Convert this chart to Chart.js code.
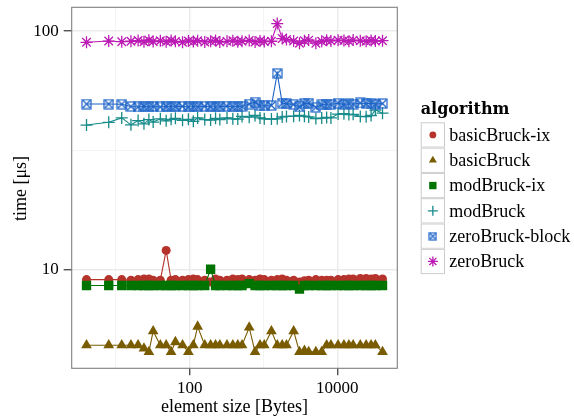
<!DOCTYPE html>
<html>
<head>
<meta charset="utf-8">
<script src="https://cdn.jsdelivr.net/npm/chart.js@4"></script>
<style>
  html, body { margin: 0; padding: 0; background: #fff; }
  #wrap { width: 574px; height: 416px; }
</style>
</head>
<body>
<div id="wrap"><canvas id="chart" width="574" height="416"></canvas></div>
<script>
// datos
const sizes = [4, 8, 12, 16, 20, 24, 28, 32, 40, 48, 56, 64, 80, 96, 112, 128, 160, 192, 224, 256,
  320, 384, 448, 512, 640, 768, 896, 1024, 1280, 1536, 1792, 2048, 2560, 3072, 3584, 4096,
  5120, 6144, 7168, 8192, 10240, 12288, 14336, 16384, 20480, 24576, 28672, 32768, 40960];

const basicBruckIx = [9.05, 9.05, 9.05, 9.0, 9.05, 9.1, 9.1, 9.0, 9.0, 12.0, 9.0, 9.05, 9.0, 9.05, 9.1,
  9.05, 9.0, 8.85, 9.1, 9.0, 9.0, 9.1, 9.05, 9.1, 9.05, 9.0, 9.1, 9.05, 9.0, 9.05, 9.1, 9.0, 9.0,
  8.85, 8.95, 9.0, 9.05, 9.0, 9.0, 9.0, 9.05, 9.05, 9.1, 9.1, 9.15, 9.15, 9.1, 9.15, 9.1];

const basicBruck = [4.8, 4.8, 4.8, 4.8, 4.8, 4.65, 4.5, 5.5, 4.8, 4.8, 4.5, 4.95, 4.8, 4.5, 4.8, 5.75,
  4.8, 4.8, 4.8, 4.8, 4.8, 4.8, 4.8, 4.8, 5.7, 4.5, 4.8, 4.8, 5.5, 4.8, 4.8, 4.8, 5.5, 4.5, 4.55,
  4.5, 4.5, 4.5, 4.8, 4.8, 4.8, 4.8, 4.8, 4.8, 4.8, 4.8, 4.8, 4.8, 4.5];

const modBruckIx = [8.55, 8.55, 8.55, 8.55, 8.55, 8.55, 8.55, 8.55, 8.55, 8.55, 8.55, 8.55, 8.55, 8.55,
  8.55, 8.55, 8.55, 10.0, 8.55, 8.55, 8.55, 8.55, 8.55, 8.55, 8.7, 8.55, 8.55, 8.55, 8.55, 8.55,
  8.55, 8.55, 8.55, 8.25, 8.55, 8.55, 8.55, 8.55, 8.55, 8.55, 8.55, 8.55, 8.55, 8.55, 8.55, 8.55,
  8.55, 8.55, 8.55];

const modBruck = [40.3, 41.4, 43.2, 40.4, 42.1, 40.8, 42.5, 41.5, 42.8, 42.0, 42.6, 43.0, 42.2, 42.6,
  41.8, 43.2, 42.5, 42.3, 43.0, 42.5, 43.2, 42.8, 42.7, 43.8, 43.5, 44.2, 43.2, 42.8, 42.7, 42.8,
  43.6, 43.8, 43.9, 44.2, 43.9, 43.6, 42.9, 43.1, 43.4, 43.2, 44.8, 45.0, 44.6, 44.7, 43.8, 43.7,
  44.2, 46.6, 45.2];

const zeroBruckBlock = [49.4, 49.4, 49.3, 48.2, 48.0, 48.3, 48.1, 48.2, 48.0, 48.3, 48.1, 48.2, 48.3,
  48.0, 48.2, 48.1, 48.3, 48.2, 48.0, 48.2, 48.4, 48.1, 48.3, 48.2, 49.4, 50.3, 48.6, 48.5, 48.7,
  66.4, 49.8, 49.6, 49.2, 48.0, 49.7, 49.8, 47.8, 49.0, 49.4, 49.2, 49.8, 49.1, 49.6, 49.3, 49.9,
  49.5, 49.8, 49.4, 49.6];

const zeroBruck = [89.7, 90.8, 90.2, 90.6, 91.2, 90.1, 91.5, 90.4, 91.0, 90.2, 91.3, 90.5, 89.8, 90.9,
  90.3, 91.1, 90.0, 90.7, 91.2, 89.9, 90.5, 91.0, 90.2, 90.6, 91.3, 90.0, 90.8, 90.4, 90.6, 107.5,
  93.0, 92.2, 90.8, 88.8, 91.0, 91.6, 88.9, 90.6, 91.4, 90.9, 91.5, 91.2, 90.7, 91.6, 91.0, 90.6,
  91.3, 90.8, 91.1];

const seriesNames = ['basicBruck-ix', 'basicBruck', 'modBruck-ix', 'modBruck', 'zeroBruck-block', 'zeroBruck'];
const seriesValues = [basicBruckIx, basicBruck, modBruckIx, modBruck, zeroBruckBlock, zeroBruck];

const xTicks = [10, 100, 1000, 10000];
const xTickLabels = ['', '100', '', '10000'];
const yTicks = [10, 31.623, 100];
const yTickLabels = ['10', '', '100'];

// estilos (ggplot2 theme_bw aprox.)
const colors = ['#b5332b', '#7a5c00', '#007300', '#178a8a', '#1d64c8', '#bb1bb4'];
const SERIF = "'Liberation Serif', 'DejaVu Serif', serif";

function boxCross(size, color) {
    const c = document.createElement('canvas');
    c.width = c.height = size;
    const g = c.getContext('2d');
    g.strokeStyle = color;
    g.lineWidth = 1.2;
    g.strokeRect(1, 1, size - 2, size - 2);
    g.beginPath();
    g.moveTo(1.5, 1.5); g.lineTo(size - 1.5, size - 1.5);
    g.moveTo(size - 1.5, 1.5); g.lineTo(1.5, size - 1.5);
    g.stroke();
    return c;
}

const markers = [
    { pointStyle: 'circle', radius: 4.5, borderWidth: 0, legendRadius: 3.4 },
    { pointStyle: 'triangle', radius: 6.2, borderWidth: 0, legendRadius: 4.6 },
    { pointStyle: 'rect', radius: 6.6, borderWidth: 0, legendRadius: 5.2 },
    { pointStyle: 'cross', radius: 6, borderWidth: 1.3, legendRadius: 5 },
    { pointStyle: boxCross(11, colors[4]), radius: 5, borderWidth: 0, legendStyle: boxCross(9, colors[4]) },
    { pointStyle: 'star', radius: 6, borderWidth: 1.3, legendRadius: 5 }
];

const datasets = seriesNames.map((name, i) => ({
    label: name,
    data: sizes.map((s, k) => ({ x: s, y: seriesValues[i][k] })),
    borderColor: colors[i],
    backgroundColor: colors[i],
    borderWidth: 1.1,
    tension: 0,
    pointStyle: markers[i].pointStyle,
    pointRadius: markers[i].radius,
    pointHoverRadius: markers[i].radius,
    pointBorderWidth: markers[i].borderWidth,
    pointBackgroundColor: colors[i],
    pointBorderColor: colors[i],
    order: 6 - i
}));

// borde del panel, titulos y leyenda
const ggExtras = {
    id: 'ggExtras',
    afterDraw(chart) {
        const ctx = chart.ctx;
        const a = chart.chartArea;
        ctx.save();
        ctx.strokeStyle = '#7f7f7f';
        ctx.lineWidth = 1.1;
        ctx.strokeRect(a.left, a.top, a.right - a.left, a.bottom - a.top);

        ctx.fillStyle = '#000';
        ctx.font = '18px ' + SERIF;
        ctx.textAlign = 'center';
        ctx.textBaseline = 'alphabetic';
        ctx.fillText('element size [Bytes]', (a.left + a.right) / 2, 411.5);

        ctx.save();
        ctx.translate(25.5, 188.5);
        ctx.rotate(-Math.PI / 2);
        ctx.fillText('time [\u03BCs]', 0, 0);
        ctx.restore();

        // leyenda
        const lx = 420.7, ly = 122.3, kw = 24.3, kh = 25.3;
        ctx.textAlign = 'left';
        ctx.font = 'bold 16px ' + "'DejaVu Serif', serif";
        ctx.fillText('algorithm', lx, 113.5);
        ctx.font = '18px ' + SERIF;
        ctx.textBaseline = 'middle';
        seriesNames.forEach((name, i) => {
            const top = ly + i * kh;
            ctx.fillStyle = '#fff';
            ctx.fillRect(lx, top, kw, kh);
            ctx.strokeStyle = '#cccccc';
            ctx.lineWidth = 1;
            ctx.strokeRect(lx + 0.5, top + 0.5, kw - 1, kh - 1);
            const cx = lx + kw / 2, cy = top + kh / 2;
            ctx.fillStyle = colors[i];
            ctx.strokeStyle = colors[i];
            ctx.lineWidth = markers[i].borderWidth || 1;
            const m = markers[i];
            Chart.helpers.drawPoint(ctx, {
                pointStyle: m.legendStyle || m.pointStyle,
                radius: m.legendRadius || m.radius,
                rotation: 0,
                borderWidth: m.borderWidth
            }, cx, cy);
            ctx.fillStyle = '#000';
            ctx.fillText(name, 449.3, cy + 1);
        });
        ctx.restore();
    }
};

const isMajor = (v, list) => list.some(t => Math.abs(t - v) < 1e-6 * t);
const xMajor = xTicks.filter((v, i) => xTickLabels[i] !== '');
const yMajor = yTicks.filter((v, i) => yTickLabels[i] !== '');

new Chart(document.getElementById('chart'), {
    type: 'line',
    data: { datasets },
    plugins: [ggExtras],
    options: {
        responsive: false,
        animation: false,
        layout: { padding: { left: 0, right: 176.7, top: 7.3, bottom: 0 } },
        plugins: { legend: { display: false }, tooltip: { enabled: false } },
        scales: {
            x: {
                type: 'logarithmic',
                min: 2.52,
                max: 64950,
                afterFit: (s) => { s.height = 47.7; s.paddingLeft = 0; s.paddingRight = 0; },
                afterBuildTicks: (s) => { s.ticks = xTicks.map(v => ({ value: v })); },
                border: { display: false },
                grid: {
                    color: (c) => isMajor(c.tick.value, xMajor) ? '#ebebeb' : '#f4f4f4',
                    lineWidth: (c) => isMajor(c.tick.value, xMajor) ? 1.5 : 1,
                    tickColor: (c) => isMajor(c.tick.value, xMajor) ? '#333333' : 'rgba(0,0,0,0)',
                    tickWidth: 1.2,
                    tickLength: 7
                },
                ticks: {
                    autoSkip: false,
                    maxRotation: 0,
                    padding: 3,
                    color: '#000',
                    font: { family: SERIF, size: 17, lineHeight: 1.2 },
                    callback: (v, i) => xTickLabels[i]
                }
            },
            y: {
                type: 'logarithmic',
                min: 3.84,
                max: 125.8,
                afterFit: (s) => { s.width = 71.7; s.paddingTop = 0; s.paddingBottom = 0; },
                afterBuildTicks: (s) => { s.ticks = yTicks.map(v => ({ value: v })); },
                border: { display: false },
                grid: {
                    color: (c) => isMajor(c.tick.value, yMajor) ? '#ebebeb' : '#f4f4f4',
                    lineWidth: (c) => isMajor(c.tick.value, yMajor) ? 1.5 : 1,
                    tickColor: (c) => isMajor(c.tick.value, yMajor) ? '#333333' : 'rgba(0,0,0,0)',
                    tickWidth: 1.2,
                    tickLength: 8
                },
                ticks: {
                    autoSkip: false,
                    padding: 5,
                    color: '#000',
                    font: { family: SERIF, size: 17 },
                    callback: (v, i) => yTickLabels[i]
                }
            }
        }
    }
});
</script>
</body>
</html>
